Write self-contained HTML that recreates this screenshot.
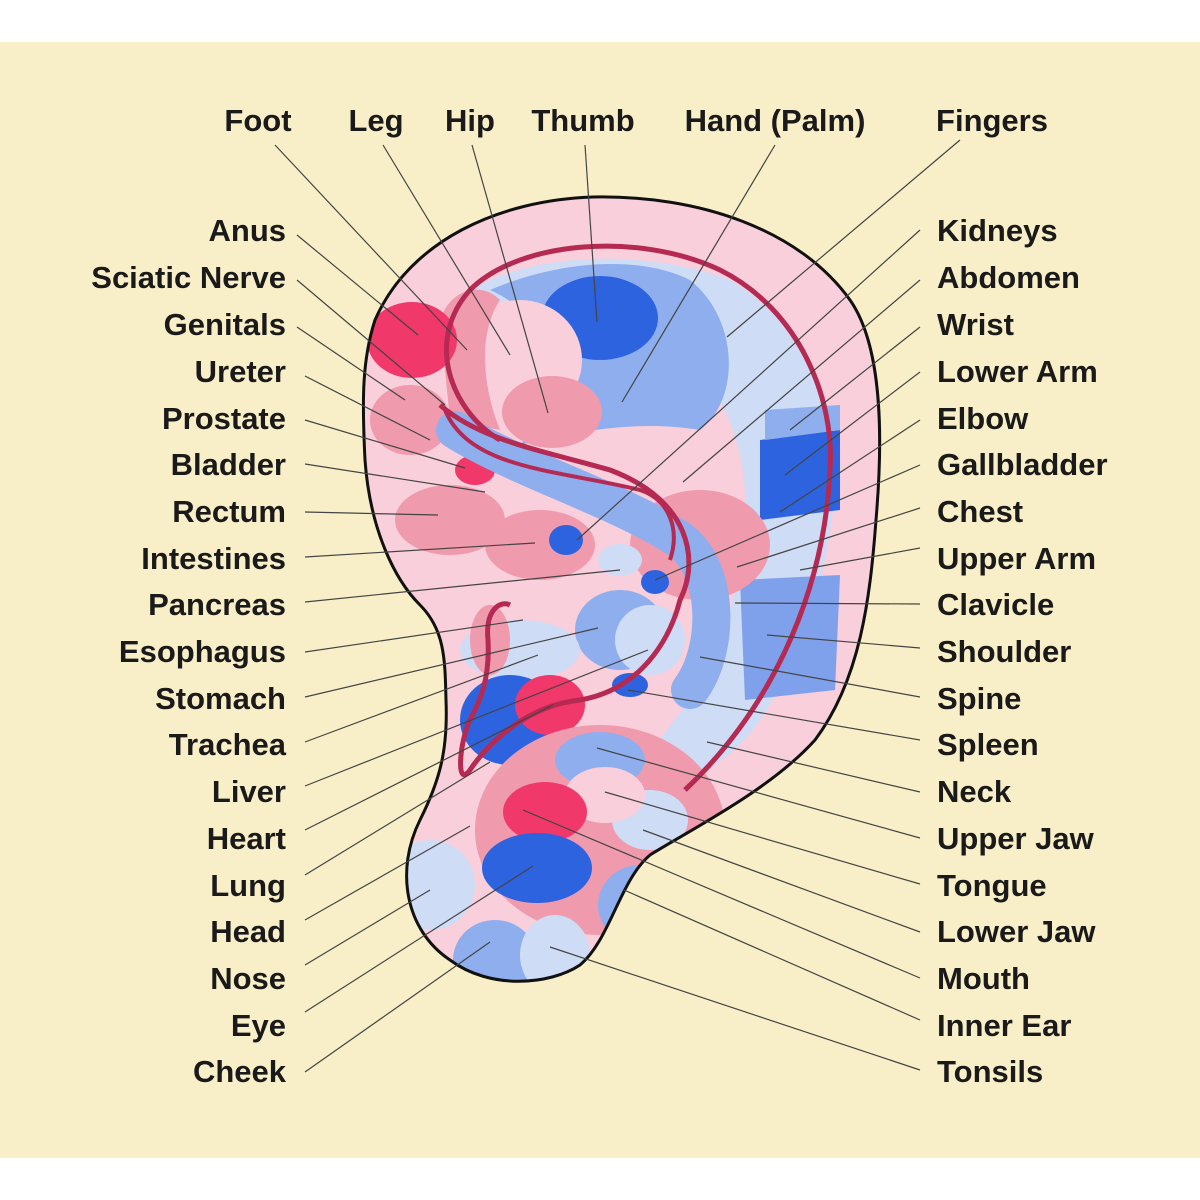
<!DOCTYPE html>
<html><head><meta charset="utf-8"><style>
html,body{margin:0;padding:0;background:#fff;}
svg{display:block}
text{font-family:"Liberation Sans",sans-serif;font-size:31px;fill:#1a1a1a;font-weight:bold}
</style></head><body>
<svg width="1200" height="1200" viewBox="0 0 1200 1200" xmlns="http://www.w3.org/2000/svg">
<rect x="0" y="0" width="1200" height="1200" fill="#fff"/>
<rect x="0" y="42" width="1200" height="1116" fill="#f8efc8"/>
<defs>
<clipPath id="ear"><path id="earp" d="M375,320 C410,240 500,200 593,197 C700,195 800,230 850,300 C885,350 882,450 876,520 C870,600 860,680 815,740 C770,790 690,830 650,855 C620,880 610,940 580,965 C550,985 490,990 450,960 C405,930 395,870 420,820 C440,780 448,750 446,700 C445,660 445,630 420,605 C395,580 370,530 365,460 C362,400 362,360 375,320 Z"/></clipPath>
</defs>
<g clip-path="url(#ear)">
<rect x="300" y="150" width="650" height="900" fill="#f8cfdb"/>
<path d="M470,290 C540,250 650,250 730,280 C800,320 835,400 835,470 C835,560 800,660 760,720 C740,750 710,770 690,780 L640,760 C700,700 740,620 745,520 C750,420 700,340 600,300 C550,285 500,295 470,320 Z" fill="#cfdcf5"/>
<path d="M760,440 L840,430 L840,510 L760,520 Z" fill="#2e63e0"/>
<path d="M740,580 L840,575 L835,690 L745,700 Z" fill="#7fa1ec"/>
<path d="M765,410 L840,405 L840,430 L765,440 Z" fill="#8eaeee"/>
<path d="M490,290 C560,260 640,255 690,280 C740,320 740,400 700,430 C640,420 580,430 520,445 C560,400 560,320 490,290 Z" fill="#8eaeee"/>
<ellipse cx="600" cy="318" rx="58" ry="42" fill="#2e63e0"/>
<ellipse cx="520" cy="360" rx="62" ry="60" fill="#f8cfdb"/>
<ellipse cx="552" cy="412" rx="50" ry="36" fill="#f09aae"/>
<path d="M440,320 C450,290 480,280 500,300 C480,330 480,380 500,430 L450,420 Z" fill="#f09aae"/>
<ellipse cx="412" cy="340" rx="45" ry="38" fill="#f0386a"/>
<ellipse cx="410" cy="420" rx="40" ry="35" fill="#f09aae"/>
<ellipse cx="450" cy="520" rx="55" ry="35" fill="#f09aae"/>
<ellipse cx="475" cy="470" rx="20" ry="15" fill="#f0386a"/>
<ellipse cx="700" cy="545" rx="70" ry="55" fill="#f09aae"/>
<ellipse cx="540" cy="545" rx="55" ry="35" fill="#f09aae"/>
<ellipse cx="566" cy="540" rx="17" ry="15" fill="#2e63e0"/>
<ellipse cx="620" cy="560" rx="22" ry="16" fill="#cfdcf5"/>
<ellipse cx="655" cy="582" rx="14" ry="12" fill="#2e63e0"/>
<ellipse cx="620" cy="630" rx="45" ry="40" fill="#8eaeee"/>
<ellipse cx="650" cy="640" rx="35" ry="35" fill="#cfdcf5"/>
<ellipse cx="630" cy="685" rx="18" ry="12" fill="#2e63e0"/>
<ellipse cx="520" cy="650" rx="60" ry="30" fill="#cfdcf5"/>
<ellipse cx="510" cy="720" rx="50" ry="45" fill="#2e63e0"/>
<ellipse cx="550" cy="705" rx="35" ry="30" fill="#f0386a"/>
<ellipse cx="490" cy="640" rx="20" ry="35" fill="#f09aae"/>
<path d="M455,430 C520,470 620,500 680,540 C720,570 720,650 690,690" fill="none" stroke="#8eaeee" stroke-width="38" stroke-linecap="round"/>
<ellipse cx="600" cy="830" rx="125" ry="105" fill="#f09aae"/>
<ellipse cx="600" cy="760" rx="45" ry="28" fill="#8eaeee"/>
<ellipse cx="650" cy="820" rx="38" ry="30" fill="#cfdcf5"/>
<ellipse cx="605" cy="795" rx="40" ry="28" fill="#f8cfdb"/>
<ellipse cx="545" cy="812" rx="42" ry="30" fill="#f0386a"/>
<ellipse cx="537" cy="868" rx="55" ry="35" fill="#2e63e0"/>
<ellipse cx="430" cy="885" rx="45" ry="45" fill="#cfdcf5"/>
<ellipse cx="495" cy="960" rx="42" ry="40" fill="#8eaeee"/>
<ellipse cx="555" cy="955" rx="35" ry="40" fill="#cfdcf5"/>
<ellipse cx="640" cy="905" rx="42" ry="40" fill="#8eaeee"/>
<path d="M500,440 C450,410 425,340 470,290 C520,240 640,232 720,270 C800,310 835,400 830,470 C825,580 780,700 685,790" fill="none" stroke="#b52a52" stroke-width="5"/>
<path d="M440,405 C480,440 540,450 610,470 C690,500 700,560 680,600 C670,640 640,690 580,700 C530,705 490,740 470,770 C455,790 460,740 470,720 C480,700 490,680 488,640 C485,610 500,600 510,605" fill="none" stroke="#b52a52" stroke-width="5"/>
<path d="M445,410 C470,470 560,470 640,490 C670,500 680,530 670,560" fill="none" stroke="#b52a52" stroke-width="4"/>
</g>
<use href="#earp" fill="none" stroke="#111" stroke-width="3"/>
<g stroke="#444" stroke-width="1.2">
<line x1="275" y1="145" x2="467" y2="350"/><line x1="383" y1="145" x2="510" y2="355"/><line x1="472" y1="145" x2="548" y2="413"/><line x1="585" y1="145" x2="597" y2="322"/><line x1="775" y1="145" x2="622" y2="402"/><line x1="960" y1="140" x2="727" y2="337"/>
<line x1="297" y1="235" x2="418" y2="335"/><line x1="297" y1="280" x2="445" y2="405"/><line x1="297" y1="327" x2="405" y2="400"/><line x1="305" y1="376" x2="430" y2="440"/><line x1="305" y1="420" x2="465" y2="468"/><line x1="305" y1="464" x2="485" y2="492"/><line x1="305" y1="512" x2="438" y2="515"/><line x1="305" y1="557" x2="535" y2="543"/><line x1="305" y1="602" x2="620" y2="570"/><line x1="305" y1="652" x2="523" y2="620"/><line x1="305" y1="697" x2="598" y2="628"/><line x1="305" y1="742" x2="538" y2="655"/><line x1="305" y1="786" x2="648" y2="650"/><line x1="305" y1="830" x2="553" y2="705"/><line x1="305" y1="875" x2="490" y2="762"/><line x1="305" y1="920" x2="470" y2="826"/><line x1="305" y1="965" x2="430" y2="890"/><line x1="305" y1="1012" x2="533" y2="866"/><line x1="305" y1="1072" x2="490" y2="942"/>
<line x1="920" y1="230" x2="577" y2="540"/><line x1="920" y1="280" x2="683" y2="482"/><line x1="920" y1="327" x2="790" y2="430"/><line x1="920" y1="372" x2="785" y2="475"/><line x1="920" y1="420" x2="780" y2="512"/><line x1="920" y1="465" x2="655" y2="580"/><line x1="920" y1="508" x2="737" y2="567"/><line x1="920" y1="548" x2="800" y2="570"/><line x1="920" y1="604" x2="735" y2="603"/><line x1="920" y1="648" x2="767" y2="635"/><line x1="920" y1="697" x2="700" y2="657"/><line x1="920" y1="740" x2="628" y2="690"/><line x1="920" y1="792" x2="707" y2="742"/><line x1="920" y1="838" x2="597" y2="748"/><line x1="920" y1="884" x2="605" y2="792"/><line x1="920" y1="932" x2="643" y2="830"/><line x1="920" y1="978" x2="523" y2="810"/><line x1="920" y1="1020" x2="624" y2="890"/><line x1="920" y1="1070" x2="550" y2="947"/>
</g>
<g text-anchor="middle">
<text x="258" y="131">Foot</text><text x="376" y="131">Leg</text><text x="470" y="131">Hip</text><text x="583" y="131">Thumb</text><text x="775" y="131">Hand (Palm)</text><text x="992" y="131">Fingers</text>
</g>
<g text-anchor="end">
<text x="286" y="241">Anus</text><text x="286" y="288">Sciatic Nerve</text><text x="286" y="335">Genitals</text><text x="286" y="382">Ureter</text><text x="286" y="429">Prostate</text><text x="286" y="475">Bladder</text><text x="286" y="522">Rectum</text><text x="286" y="569">Intestines</text><text x="286" y="615">Pancreas</text><text x="286" y="662">Esophagus</text><text x="286" y="709">Stomach</text><text x="286" y="755">Trachea</text><text x="286" y="802">Liver</text><text x="286" y="849">Heart</text><text x="286" y="896">Lung</text><text x="286" y="942">Head</text><text x="286" y="989">Nose</text><text x="286" y="1036">Eye</text><text x="286" y="1082">Cheek</text>
</g>
<g>
<text x="937" y="241">Kidneys</text><text x="937" y="288">Abdomen</text><text x="937" y="335">Wrist</text><text x="937" y="382">Lower Arm</text><text x="937" y="429">Elbow</text><text x="937" y="475">Gallbladder</text><text x="937" y="522">Chest</text><text x="937" y="569">Upper Arm</text><text x="937" y="615">Clavicle</text><text x="937" y="662">Shoulder</text><text x="937" y="709">Spine</text><text x="937" y="755">Spleen</text><text x="937" y="802">Neck</text><text x="937" y="849">Upper Jaw</text><text x="937" y="896">Tongue</text><text x="937" y="942">Lower Jaw</text><text x="937" y="989">Mouth</text><text x="937" y="1036">Inner Ear</text><text x="937" y="1082">Tonsils</text>
</g>
</svg>
</body></html>
